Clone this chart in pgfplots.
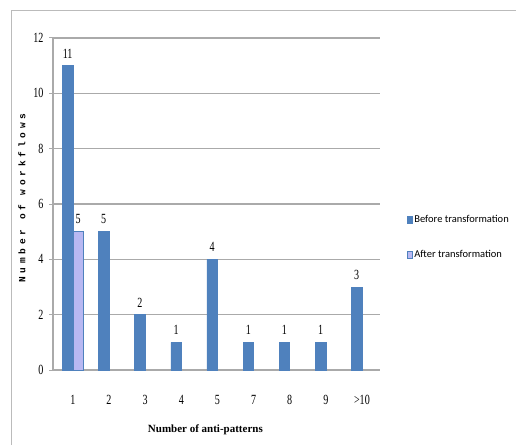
\documentclass[border=0pt]{standalone}
\usepackage{pgfplots}
\pgfplotsset{compat=1.18}
\usepackage{fontspec}
\setmainfont{Liberation Serif}
\newfontfamily\legfont{Carlito}
\newfontfamily\labfont{Liberation Mono}
\definecolor{barblue}{RGB}{79,129,189}
\definecolor{barlav}{RGB}{184,184,242}
\definecolor{gridgray}{RGB}{170,170,170}
\newcommand{\dignum}[1]{\scalebox{0.72}[1]{\fontsize{14}{16}\selectfont #1}}
\begin{document}
\begin{tikzpicture}[x=1pt,y=1pt]
\useasboundingbox (0,0) rectangle (516,445);
\draw[gridgray!80, line width=1pt] (11,0) -- (11,434) -- (516,434);
\begin{axis}[
    at={(53pt,75pt)}, anchor=south west,
    scale only axis, clip=false,
    width=327pt, height=332pt,
    ybar=0pt, bar width=10.5pt,
    xmin=-0.55, xmax=8.5,
    ymin=0, ymax=12,
    xtick={0,...,8},
    xticklabels={\dignum{1},\dignum{2},\dignum{3},\dignum{4},\dignum{5},\dignum{7},\dignum{8},\dignum{9},\dignum{\textgreater10}},
    ytick={0,2,...,12},
    /pgf/number format/assume math mode=true,
    yticklabel={\dignum{\pgfmathprintnumber{\tick}}},
    xticklabel style={yshift=-18pt},
    yticklabel style={xshift=-2pt},
    xtick style={draw=none},
    ytick style={gridgray, line width=1pt},
    major tick length=4pt,
    tick align=outside,
    ymajorgrids,
    grid style={gridgray, line width=1.2pt},
    axis x line*=bottom, axis y line*=left,
    x axis line style={gridgray, line width=1.2pt, -},
    y axis line style={gridgray, line width=1.2pt, -},
    legend style={
        at={(1.072,0.48)}, anchor=north west,
        draw=none, fill=none,
        font=\legfont\fontsize{10.5}{12}\selectfont,
        row sep=23pt,
        legend cell align=left,
        /tikz/every even column/.append style={column sep=1pt},
    },
    legend image code/.code={\fill[#1] (0pt,-3.5pt) rectangle (5pt,3.5pt);},
    nodes near coords={\dignum{\pgfmathprintnumber{\pgfplotspointmeta}}},
    nodes near coords style={yshift=4pt},
]
\addplot[fill=barblue, draw=barblue] coordinates {
    (0,11) (1,5) (2,2) (3,1) (4,4) (5,1) (6,1) (7,1) (8,3)
};
\addlegendentry{Before transformation}
\addplot[fill=barlav, draw=barblue, line width=0.6pt] coordinates {
    (0,5)
};
\addlegendentry{After transformation}
\node[rotate=90, font=\labfont\bfseries\fontsize{9.5}{11}\selectfont]
    at (axis description cs:-0.095,0.518) {\addfontfeature{LetterSpace=40}Number of workflows};
\node[font=\bfseries\fontsize{11}{13}\selectfont]
    at (axis description cs:0.466,-0.18) {Number of anti-patterns};
\end{axis}
\end{tikzpicture}
\end{document}
